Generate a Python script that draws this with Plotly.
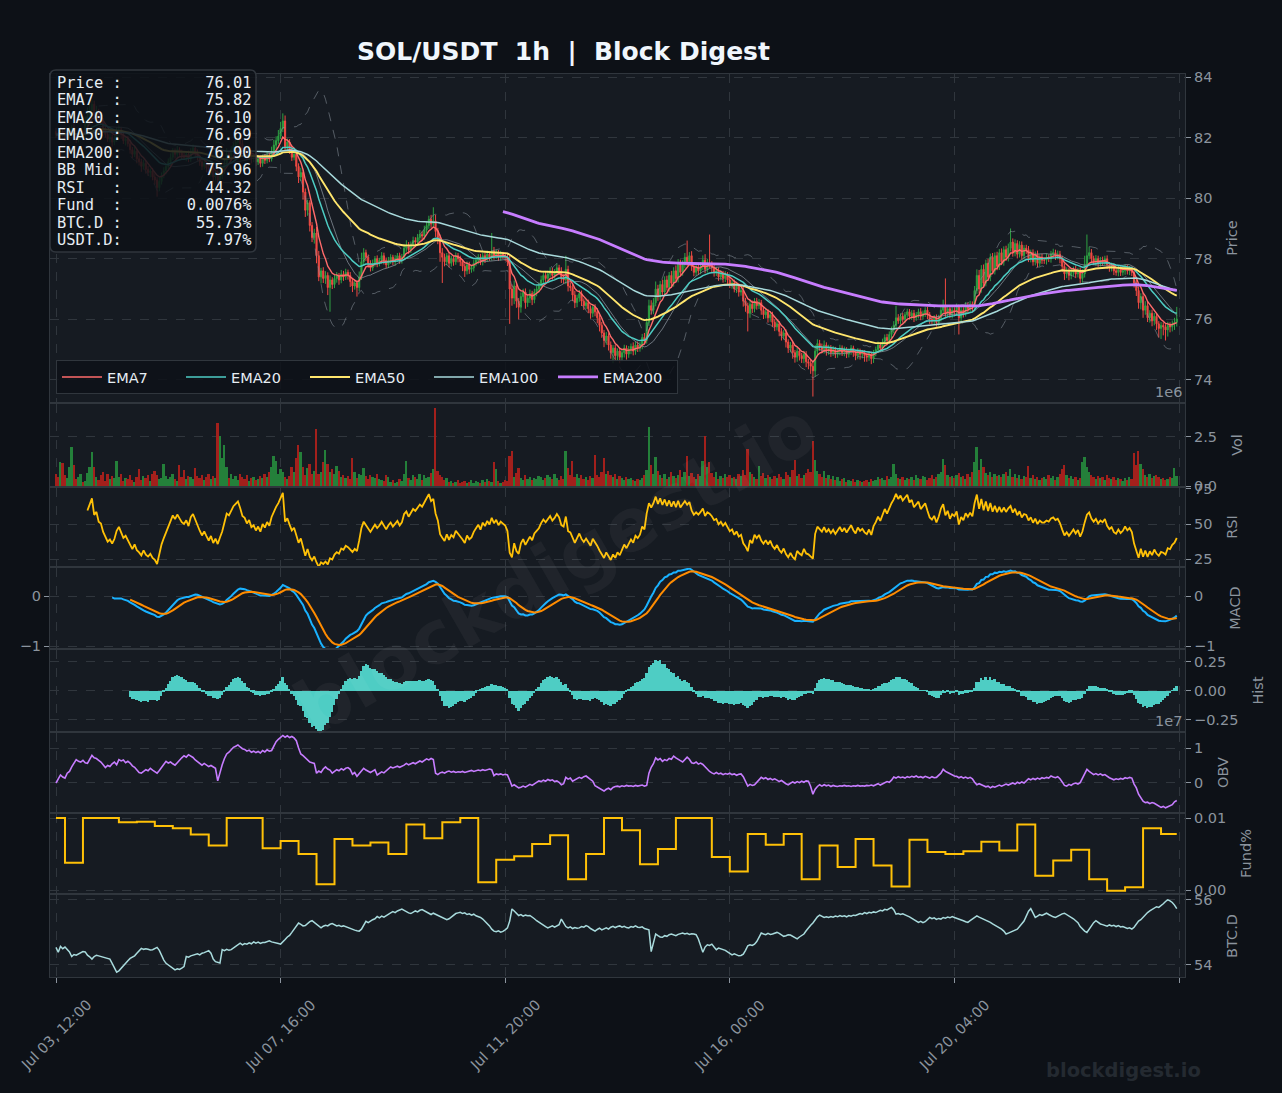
import numpy as np
import pandas as pd
import plotly.graph_objects as go
from datetime import datetime, timedelta

# ------------------------------------------------------------------ data
start_time = "2025-07-03 12:00"
first_open = 82.20

close = [
    82.10, 82.05, 82.20, 82.15, 82.00, 82.10, 82.25, 82.35, 82.05, 81.95, 82.05, 82.15, 82.10, 82.45, 82.70, 82.90, 83.10, 82.75, 82.85, 82.60,
    82.55, 82.30, 82.10, 81.95, 82.00, 81.85, 81.95, 82.15, 82.25, 82.10, 81.90, 81.95, 81.80, 81.60, 81.45, 81.55, 81.30, 81.20, 81.05, 81.15,
    80.95, 80.85, 80.90, 80.70, 80.60, 80.35, 80.55, 80.75, 80.90, 81.05, 81.20, 81.35, 81.55, 81.45, 81.60, 81.50, 81.40, 81.35, 81.45, 81.30,
    81.55, 81.65, 81.50, 81.35, 81.20, 81.05, 81.15, 81.00, 80.85, 80.95, 80.70, 80.80, 80.60, 80.75, 80.90, 81.15, 81.45, 81.40, 81.60, 81.75,
    81.85, 81.95, 81.80, 81.60, 81.55, 81.40, 81.50, 81.30, 81.35, 81.20, 81.30, 81.15, 81.35, 81.25, 81.40, 81.30, 81.55, 81.75, 81.90, 82.05,
    82.30, 82.55, 81.70, 81.85, 81.60, 81.35, 81.45, 81.05, 80.70, 80.85, 80.20, 79.60, 79.85, 79.10, 78.70, 78.85, 78.10, 77.40, 77.60, 77.35,
    77.45, 77.05, 77.30, 77.15, 77.35, 77.45, 77.30, 77.50, 77.40, 77.55, 77.45, 77.25, 77.10, 77.20, 77.05, 77.40, 77.90, 78.20, 78.05, 77.85,
    77.70, 77.85, 78.00, 77.85, 77.95, 78.10, 77.95, 77.80, 77.95, 78.05, 77.90, 78.00, 78.10, 77.95, 78.05, 78.35, 78.45, 78.30, 78.45, 78.60,
    78.55, 78.70, 78.80, 78.75, 78.95, 79.10, 79.30, 79.15, 79.25, 78.90, 78.70, 78.20, 78.05, 77.90, 78.10, 77.85, 78.00, 77.90, 78.10, 78.00,
    77.90, 77.75, 77.60, 77.80, 77.65, 77.70, 77.85, 77.95, 78.05, 77.90, 78.10, 78.00, 78.15, 78.05, 78.25, 78.10, 78.20, 78.05, 78.15, 78.10,
    78.05, 77.90, 77.00, 76.70, 77.10, 76.60, 76.40, 76.75, 76.90, 76.55, 76.70, 76.85, 76.65, 76.90, 77.00, 77.10, 77.30, 77.45, 77.35, 77.50,
    77.60, 77.45, 77.55, 77.70, 77.60, 77.35, 77.30, 77.65, 77.10, 77.05, 76.80, 76.55, 76.70, 76.85, 76.60, 76.45, 76.55, 76.35, 76.20, 76.40,
    76.25, 76.05, 75.80, 75.55, 75.30, 75.45, 75.15, 74.90, 75.05, 74.80, 74.95, 74.75, 74.90, 75.05, 74.85, 75.00, 75.10, 74.95, 75.15, 75.05,
    75.15, 75.40, 75.30, 75.90, 76.45, 76.30, 76.55, 77.00, 76.75, 77.15, 76.90, 77.30, 77.05, 77.45, 77.20, 77.60, 77.35, 77.85, 77.55, 77.80,
    78.05, 77.90, 78.10, 77.75, 77.55, 77.70, 77.60, 77.75, 77.95, 77.65, 77.85, 77.80, 77.70, 77.55, 77.60, 77.40, 77.50, 77.35, 77.45, 77.30,
    77.15, 77.20, 77.00, 77.10, 76.90, 76.95, 76.60, 76.45, 76.20, 76.50, 76.35, 76.60, 76.45, 76.55, 76.30, 76.15, 76.25, 76.05, 76.15, 75.90,
    75.75, 75.85, 75.60, 75.45, 75.55, 75.25, 75.05, 75.15, 74.90, 74.75, 74.95, 74.80, 74.70, 74.85, 74.60, 74.55, 74.45, 74.30, 74.95, 75.20,
    75.10, 75.00, 75.15, 74.95, 75.05, 74.90, 75.00, 74.85, 74.95, 75.05, 74.90, 75.00, 74.85, 74.95, 75.05, 74.90, 74.80, 74.95, 74.85, 74.90,
    74.80, 74.75, 74.85, 74.70, 74.90, 75.00, 75.15, 75.05, 75.25, 75.40, 75.30, 75.50, 75.65, 75.80, 76.05, 75.95, 76.10, 76.00, 76.15, 76.25,
    76.10, 76.20, 76.05, 76.15, 76.25, 76.10, 76.20, 76.30, 76.15, 76.00, 75.95, 76.05, 75.90, 76.05, 76.30, 76.45, 76.20, 76.35, 76.15, 76.30,
    76.25, 76.40, 76.05, 76.30, 76.20, 76.45, 76.35, 76.50, 76.40, 76.95, 77.45, 77.00, 77.65, 77.20, 77.85, 77.40, 78.05, 77.60, 78.10, 77.75,
    78.20, 77.90, 78.30, 78.05, 78.35, 78.55, 78.20, 78.50, 78.15, 78.45, 78.10, 78.35, 78.30, 78.00, 78.20, 77.90, 78.15, 77.85, 78.05, 77.95,
    77.95, 78.05, 78.00, 78.15, 78.20, 78.10, 78.15, 78.00, 77.75, 77.50, 77.60, 77.45, 77.55, 77.65, 77.50, 77.60, 77.35, 77.50, 77.80, 78.10,
    78.20, 78.00, 77.90, 78.00, 77.85, 77.95, 77.90, 78.00, 77.80, 77.70, 77.75, 77.60, 77.55, 77.65, 77.55, 77.60, 77.70, 77.60, 77.65, 77.55,
    77.20, 76.95, 76.55, 76.75, 76.30, 76.45, 76.05, 76.20, 75.95, 76.10, 75.85, 75.70, 75.80, 75.75, 75.65, 75.80, 75.75, 75.85, 75.90, 76.01,
]

# upper / lower wick length beyond the candle body, in cents
hi_wick_c = [
    12, 8, 15, 10, 9, 14, 11, 7, 13, 10, 8, 12, 9, 25, 30, 35, 15, 12, 20, 10,
    15, 9, 11, 8, 14, 10, 12, 18, 15, 9, 11, 8, 10, 12, 9, 14, 8, 11, 10, 12,
    9, 11, 8, 10, 12, 9, 14, 10, 12, 8, 11, 13, 10, 9, 12, 8, 10, 11, 9, 12,
    10, 12, 8, 11, 9, 10, 13, 8, 11, 9, 12, 10, 14, 18, 12, 15, 20, 10, 12, 9,
    11, 14, 9, 12, 10, 8, 11, 9, 12, 10, 8, 11, 9, 10, 12, 9, 15, 18, 14, 20,
    22, 25, 18, 12, 10, 14, 9, 12, 10, 15, 9, 12, 10, 8, 11, 14, 20, 16, 10, 12,
    14, 10, 15, 9, 12, 11, 8, 13, 10, 12, 9, 11, 10, 12, 9, 18, 30, 15, 10, 9,
    10, 12, 9, 11, 8, 12, 10, 9, 11, 10, 8, 12, 9, 10, 11, 14, 16, 10, 12, 13,
    11, 12, 15, 10, 14, 13, 12, 15, 45, 20, 12, 10, 15, 12, 9, 11, 10, 8, 11, 9,
    10, 8, 9, 11, 10, 8, 12, 9, 10, 11, 9, 10, 12, 9, 60, 14, 10, 9, 11, 8,
    10, 12, 20, 15, 18, 12, 10, 14, 11, 12, 10, 13, 9, 11, 10, 12, 14, 10, 12, 11,
    12, 10, 11, 14, 10, 12, 15, 45, 12, 12, 10, 14, 11, 12, 10, 9, 12, 10, 11, 9,
    10, 12, 9, 11, 10, 13, 9, 12, 10, 11, 9, 12, 10, 11, 9, 12, 10, 14, 11, 12,
    10, 12, 15, 14, 20, 18, 15, 25, 14, 12, 16, 12, 14, 11, 15, 12, 18, 14, 12, 15,
    14, 55, 12, 15, 11, 13, 12, 14, 16, 20, 15, 95, 12, 10, 13, 11, 12, 10, 14, 11,
    12, 10, 11, 12, 10, 9, 12, 11, 10, 14, 12, 10, 11, 12, 9, 10, 12, 9, 11, 10,
    10, 12, 9, 11, 10, 12, 9, 10, 11, 9, 12, 10, 9, 11, 10, 9, 12, 15, 20, 14,
    12, 10, 15, 9, 11, 10, 12, 9, 10, 11, 9, 10, 8, 9, 10, 8, 9, 10, 8, 9,
    8, 9, 10, 8, 9, 10, 12, 9, 11, 10, 12, 10, 11, 14, 40, 12, 10, 11, 9, 10,
    9, 10, 11, 9, 10, 12, 9, 10, 11, 9, 10, 9, 11, 10, 15, 20, 90, 12, 10, 11,
    10, 12, 9, 11, 10, 12, 10, 11, 9, 15, 20, 18, 14, 16, 12, 15, 12, 14, 11, 13,
    12, 14, 11, 13, 15, 45, 12, 14, 11, 13, 12, 10, 11, 12, 10, 11, 9, 12, 10, 11,
    10, 12, 9, 11, 13, 10, 12, 11, 10, 9, 12, 10, 11, 9, 12, 10, 11, 15, 30, 70,
    20, 12, 10, 12, 10, 11, 12, 10, 11, 9, 12, 10, 9, 11, 10, 9, 12, 10, 11, 9,
    10, 12, 14, 11, 12, 15, 13, 10, 12, 11, 10, 9, 11, 10, 9, 12, 10, 11, 15, 40,
]
lo_wick_c = [
    10, 12, 9, 14, 11, 8, 12, 10, 9, 13, 11, 8, 10, 9, 12, 10, 14, 18, 11, 15,
    12, 14, 10, 9, 11, 15, 10, 9, 12, 14, 11, 16, 10, 13, 12, 9, 15, 12, 18, 10,
    14, 12, 16, 11, 15, 30, 12, 10, 9, 11, 10, 12, 9, 14, 11, 10, 12, 9, 13, 11,
    10, 12, 14, 11, 13, 12, 10, 15, 12, 14, 16, 11, 35, 15, 12, 10, 9, 11, 10, 12,
    10, 12, 11, 14, 10, 13, 12, 15, 11, 14, 10, 13, 11, 12, 10, 11, 9, 10, 12, 11,
    10, 12, 15, 11, 14, 12, 10, 16, 20, 14, 25, 22, 18, 20, 15, 20, 25, 14, 22, 15,
    18, 25, 80, 15, 12, 14, 16, 11, 13, 10, 14, 18, 20, 12, 30, 12, 10, 14, 12, 15,
    12, 10, 11, 13, 10, 12, 14, 11, 10, 12, 11, 13, 10, 12, 11, 10, 12, 14, 11, 10,
    12, 11, 10, 14, 12, 10, 11, 13, 12, 18, 22, 30, 85, 15, 12, 14, 11, 13, 10, 12,
    14, 16, 20, 12, 15, 11, 12, 10, 13, 11, 12, 14, 10, 12, 11, 13, 10, 12, 11, 10,
    12, 14, 115, 25, 20, 22, 40, 18, 15, 20, 14, 16, 18, 12, 14, 11, 12, 10, 13, 11,
    12, 14, 11, 10, 13, 15, 12, 14, 18, 12, 20, 18, 15, 12, 16, 14, 12, 15, 18, 13,
    15, 18, 20, 16, 22, 14, 18, 20, 35, 18, 15, 20, 14, 16, 18, 12, 15, 14, 12, 13,
    12, 14, 11, 10, 12, 15, 13, 12, 14, 11, 13, 12, 10, 14, 11, 12, 10, 13, 12, 11,
    12, 14, 11, 15, 13, 12, 14, 11, 12, 13, 11, 12, 15, 14, 12, 13, 11, 14, 12, 13,
    12, 14, 11, 13, 15, 12, 18, 20, 60, 15, 14, 12, 13, 11, 15, 14, 12, 16, 13, 15,
    14, 12, 16, 15, 12, 18, 16, 14, 20, 18, 15, 16, 14, 15, 18, 20, 25, 85, 20, 15,
    14, 12, 13, 15, 12, 14, 11, 13, 12, 14, 11, 12, 13, 11, 12, 14, 15, 12, 18, 14,
    20, 15, 12, 18, 14, 12, 11, 13, 12, 14, 11, 12, 13, 11, 12, 10, 12, 11, 13, 10,
    11, 12, 14, 10, 12, 13, 11, 12, 14, 15, 12, 13, 14, 11, 12, 13, 12, 14, 11, 12,
    12, 13, 55, 12, 14, 11, 13, 12, 14, 12, 11, 14, 12, 13, 11, 12, 14, 11, 12, 13,
    12, 11, 13, 12, 14, 11, 13, 12, 14, 11, 13, 12, 14, 11, 12, 13, 12, 14, 11, 12,
    12, 14, 11, 13, 12, 14, 12, 15, 18, 20, 14, 16, 13, 12, 14, 12, 15, 14, 12, 11,
    12, 14, 11, 13, 12, 11, 13, 12, 14, 13, 12, 14, 11, 13, 12, 11, 13, 12, 14, 12,
    15, 18, 20, 22, 25, 15, 14, 16, 18, 15, 20, 30, 35, 28, 35, 22, 18, 15, 20, 14,
]

# volume, millions
volume_m = [
    0.60, 0.45, 1.20, 1.15, 0.55, 0.40, 0.95, 2.00, 1.05, 0.35, 0.45, 0.60, 0.20, 0.25, 0.65, 0.95, 1.75, 0.95, 0.45, 0.30,
    0.55, 0.70, 0.25, 0.60, 0.35, 0.50, 0.40, 1.30, 0.45, 0.60, 0.25, 0.40, 0.35, 0.55, 0.30, 0.20, 0.45, 0.85, 0.30, 0.50,
    0.40, 0.55, 0.25, 0.60, 0.75, 0.55, 0.35, 0.40, 1.10, 0.50, 0.35, 0.45, 0.60, 0.35, 0.25, 1.05, 0.45, 0.80, 0.35, 0.50,
    0.45, 0.35, 0.90, 0.50, 0.40, 0.55, 0.30, 0.45, 0.60, 0.35, 0.50, 0.40, 3.20, 2.55, 1.45, 2.10, 0.95, 0.40, 0.60, 0.35,
    0.50, 0.30, 0.60, 0.45, 0.35, 0.55, 0.25, 0.40, 0.45, 0.30, 0.35, 0.50, 0.40, 0.60, 0.45, 0.70, 0.95, 1.55, 1.25, 0.60,
    0.85, 0.70, 0.45, 0.35, 0.50, 0.95, 0.70, 1.45, 2.10, 1.75, 0.95, 0.55, 0.90, 1.10, 0.60, 0.75, 2.90, 0.60, 0.70, 1.20,
    1.85, 1.10, 0.70, 0.85, 0.60, 1.00, 0.75, 0.45, 0.55, 0.40, 0.50, 0.35, 1.45, 0.70, 0.40, 0.60, 0.55, 0.90, 0.50, 0.35,
    0.55, 0.45, 0.40, 0.60, 0.35, 0.30, 0.25, 0.55, 0.45, 0.20, 0.30, 0.15, 0.20, 0.35, 0.25, 0.60, 1.25, 0.40, 0.30, 0.55,
    0.45, 0.35, 0.60, 0.30, 0.55, 0.40, 0.45, 0.65, 0.85, 4.00, 0.75, 0.55, 0.45, 0.30, 0.40, 0.20, 0.25, 0.15, 0.20, 0.30,
    0.15, 0.20, 0.25, 0.15, 0.20, 0.30, 0.15, 0.25, 0.20, 0.15, 0.30, 0.20, 0.35, 0.25, 0.20, 1.20, 0.85, 0.25, 0.15, 0.20,
    0.30, 0.25, 1.55, 1.80, 0.45, 0.65, 0.90, 0.40, 0.30, 0.55, 0.35, 0.45, 0.30, 0.40, 0.35, 0.50, 0.45, 0.30, 0.40, 0.55,
    0.45, 0.35, 0.60, 0.40, 0.30, 0.50, 0.35, 1.80, 0.90, 0.55, 1.30, 0.45, 0.60, 0.40, 0.55, 0.35, 0.45, 0.30, 0.50, 0.40,
    1.60, 0.55, 0.45, 0.70, 1.45, 0.60, 0.75, 0.55, 0.45, 0.60, 0.35, 0.50, 0.40, 0.30, 0.45, 0.35, 0.40, 0.30, 0.25, 0.35,
    0.30, 0.40, 0.55, 0.80, 3.00, 1.05, 0.60, 1.50, 0.75, 0.55, 0.40, 0.60, 0.35, 0.45, 0.70, 0.50, 0.40, 0.55, 0.80, 0.45,
    0.70, 1.55, 0.50, 0.65, 0.45, 0.35, 0.60, 0.50, 1.25, 2.55, 0.95, 1.20, 0.65, 0.45, 0.70, 0.35, 0.50, 0.40, 0.60, 0.45,
    0.55, 0.40, 0.45, 0.35, 0.60, 0.50, 0.80, 0.55, 1.90, 0.70, 0.60, 0.45, 0.35, 1.00, 0.50, 0.65, 0.40, 0.55, 0.45, 0.35,
    0.50, 0.40, 0.60, 0.45, 0.35, 0.70, 0.55, 0.45, 0.80, 1.35, 0.50, 0.60, 0.40, 0.55, 0.65, 0.85, 0.70, 2.30, 1.35, 0.75,
    0.60, 0.45, 0.75, 0.40, 0.55, 0.35, 0.50, 0.30, 0.45, 0.25, 0.35, 0.40, 0.20, 0.30, 0.25, 0.35, 0.20, 0.30, 0.25, 0.20,
    0.25, 0.30, 0.20, 0.35, 0.25, 0.30, 0.45, 0.35, 0.40, 0.30, 0.50, 0.35, 0.45, 1.10, 0.60, 0.40, 0.35, 0.45, 0.30, 0.40,
    0.35, 0.45, 0.30, 0.55, 0.40, 0.35, 0.50, 0.45, 0.30, 0.40, 0.55, 0.35, 0.45, 0.60, 0.70, 1.40, 1.05, 0.55, 0.45, 0.50,
    0.40, 0.55, 0.65, 0.45, 0.50, 0.35, 0.60, 0.45, 0.70, 1.20, 2.00, 0.80, 1.40, 0.95, 0.65, 0.55, 0.70, 0.45, 0.60, 0.50,
    0.55, 0.45, 0.60, 0.70, 0.50, 0.85, 0.45, 0.60, 0.40, 0.55, 0.35, 0.50, 0.45, 1.00, 0.40, 0.55, 0.35, 0.45, 0.30, 0.40,
    0.45, 0.35, 0.55, 0.40, 0.50, 0.30, 0.45, 0.60, 0.85, 1.05, 0.55, 0.40, 0.50, 0.35, 0.45, 0.30, 0.40, 1.20, 1.50, 0.95,
    0.70, 0.55, 0.45, 0.35, 0.50, 0.40, 0.45, 0.30, 0.55, 0.40, 0.35, 0.45, 0.30, 0.40, 0.35, 0.25, 0.40, 0.30, 0.45, 0.35,
    1.70, 1.05, 1.80, 1.10, 0.85, 0.55, 0.45, 0.60, 0.40, 0.50, 0.55, 0.45, 0.35, 0.40, 0.30, 0.35, 0.45, 0.40, 0.90, 0.50,
]

# on-balance volume, units of 1e7
obv_e7 = [
    0.00, 0.10, 0.23, 0.17, 0.14, 0.28, 0.33, 0.46, 0.55, 0.67, 0.62, 0.60, 0.65, 0.58, 0.56, 0.66, 0.79, 0.72, 0.70, 0.65,
    0.60, 0.52, 0.44, 0.50, 0.47, 0.55, 0.60, 0.52, 0.67, 0.63, 0.66, 0.58, 0.62, 0.57, 0.49, 0.45, 0.38, 0.30, 0.28, 0.33,
    0.38, 0.35, 0.42, 0.37, 0.33, 0.28, 0.36, 0.45, 0.53, 0.62, 0.57, 0.60, 0.55, 0.51, 0.58, 0.66, 0.72, 0.78, 0.74, 0.81,
    0.77, 0.73, 0.66, 0.60, 0.55, 0.51, 0.56, 0.52, 0.47, 0.50, 0.46, 0.42, 0.06, 0.33, 0.52, 0.70, 0.83, 0.88, 0.95, 1.02,
    1.05, 1.09, 1.03, 0.98, 0.96, 0.91, 0.94, 0.88, 0.91, 0.87, 0.90, 0.86, 0.93, 0.89, 0.95, 0.91, 0.93, 1.05, 1.18, 1.25,
    1.32, 1.36, 1.31, 1.35, 1.30, 1.33, 1.29, 1.21, 1.00, 0.83, 0.78, 0.72, 0.65, 0.60, 0.58, 0.56, 0.28, 0.34, 0.30, 0.40,
    0.46, 0.40, 0.37, 0.28, 0.33, 0.38, 0.35, 0.41, 0.37, 0.42, 0.44, 0.39, 0.25, 0.30, 0.19, 0.26, 0.33, 0.42, 0.37, 0.33,
    0.30, 0.34, 0.38, 0.23, 0.28, 0.32, 0.29, 0.35, 0.40, 0.46, 0.43, 0.45, 0.48, 0.45, 0.47, 0.51, 0.56, 0.52, 0.55, 0.58,
    0.55, 0.59, 0.63, 0.60, 0.65, 0.69, 0.66, 0.70, 0.67, 0.28, 0.24, 0.29, 0.31, 0.28, 0.32, 0.34, 0.31, 0.33, 0.30, 0.32,
    0.31, 0.33, 0.30, 0.32, 0.34, 0.36, 0.33, 0.35, 0.37, 0.35, 0.38, 0.36, 0.39, 0.40, 0.38, 0.21, 0.26, 0.24, 0.26, 0.23,
    0.25, 0.23, 0.08, -0.09, -0.05, -0.10, -0.14, -0.12, -0.09, -0.12, -0.08, -0.04, -0.07, -0.02, 0.03, 0.06, 0.04, 0.08, 0.05, 0.10,
    0.07, 0.09, 0.04, 0.06, 0.02, -0.05, -0.02, 0.16, 0.11, 0.14, 0.05, 0.09, 0.12, 0.16, 0.13, 0.18, 0.20, 0.15, 0.11, 0.05,
    -0.08, -0.12, -0.16, -0.20, -0.23, -0.18, -0.15, -0.19, -0.13, -0.10, -0.09, -0.11, -0.08, -0.10, -0.07, -0.09, -0.08, -0.10, -0.07, -0.09,
    -0.08, -0.06, -0.09, -0.07, 0.28, 0.45, 0.55, 0.72, 0.66, 0.70, 0.62, 0.67, 0.64, 0.70, 0.68, 0.77, 0.72, 0.69, 0.64, 0.60,
    0.66, 0.74, 0.68, 0.58, 0.56, 0.60, 0.54, 0.57, 0.53, 0.46, 0.38, 0.33, 0.29, 0.26, 0.30, 0.26, 0.28, 0.24, 0.27, 0.25,
    0.28, 0.24, 0.26, 0.22, 0.25, 0.26, 0.18, 0.05, -0.09, -0.04, -0.07, -0.05, 0.02, 0.10, 0.16, 0.12, 0.15, 0.10, 0.13, 0.09,
    0.12, 0.08, 0.04, 0.07, 0.02, -0.02, -0.05, -0.01, 0.03, 0.00, 0.04, 0.01, 0.05, 0.02, 0.06, 0.05, -0.10, -0.32, -0.18, -0.10,
    -0.05, -0.09, -0.05, -0.08, -0.06, -0.10, -0.07, -0.09, -0.10, -0.08, -0.09, -0.07, -0.09, -0.08, -0.10, -0.08, -0.09, -0.07, -0.09, -0.08,
    -0.09, -0.07, -0.08, -0.06, -0.08, -0.05, -0.02, -0.06, -0.03, 0.00, 0.04, 0.02, 0.08, 0.17, 0.14, 0.18, 0.15, 0.17, 0.14, 0.18,
    0.16, 0.19, 0.17, 0.20, 0.16, 0.18, 0.15, 0.19, 0.17, 0.14, 0.18, 0.15, 0.16, 0.21, 0.28, 0.39, 0.33, 0.30, 0.26, 0.22,
    0.20, 0.19, 0.15, 0.18, 0.14, 0.17, 0.13, 0.16, 0.12, 0.02, -0.05, -0.02, -0.06, -0.08, -0.11, -0.09, -0.14, -0.10, -0.12, -0.09,
    -0.06, -0.09, -0.05, -0.03, -0.06, -0.02, 0.00, -0.03, 0.02, -0.01, 0.03, 0.00, 0.06, 0.12, 0.09, 0.13, 0.10, 0.14, 0.11, 0.15,
    0.13, 0.16, 0.14, 0.20, 0.17, 0.15, 0.18, 0.12, 0.03, -0.07, -0.09, -0.04, -0.07, -0.02, 0.00, -0.03, 0.01, 0.13, 0.28, 0.39,
    0.33, 0.28, 0.24, 0.27, 0.23, 0.26, 0.22, 0.24, 0.19, 0.15, 0.12, 0.09, 0.12, 0.10, 0.13, 0.11, 0.15, 0.13, 0.16, 0.14,
    -0.03, -0.14, -0.32, -0.43, -0.52, -0.56, -0.55, -0.59, -0.56, -0.58, -0.62, -0.66, -0.70, -0.67, -0.71, -0.68, -0.66, -0.62, -0.54, -0.50,
]

# BTC dominance, %
btc_dom = [
    54.54, 54.39, 54.57, 54.50, 54.55, 54.49, 54.40, 54.26, 54.32, 54.30, 54.34, 54.37, 54.41, 54.40, 54.30, 54.25, 54.18, 54.26, 54.30, 54.28,
    54.26, 54.24, 54.23, 54.20, 54.18, 54.05, 53.90, 53.78, 53.82, 53.90, 54.00, 54.08, 54.13, 54.20, 54.24, 54.28, 54.36, 54.44, 54.51, 54.48,
    54.50, 54.48, 54.46, 54.47, 54.50, 54.54, 54.45, 54.28, 54.15, 54.05, 54.00, 53.93, 53.88, 53.85, 53.88, 53.86, 53.90, 53.95, 54.26, 54.24,
    54.28, 54.30, 54.32, 54.34, 54.31, 54.36, 54.38, 54.40, 54.44, 54.36, 54.18, 54.10, 54.08, 54.06, 54.47, 54.44, 54.48, 54.45, 54.47, 54.52,
    54.58, 54.63, 54.67, 54.62, 54.66, 54.64, 54.68, 54.65, 54.71, 54.67, 54.70, 54.66, 54.69, 54.69, 54.72, 54.74, 54.71, 54.70, 54.68, 54.66,
    54.64, 54.70, 54.78, 54.86, 54.91, 55.00, 55.10, 55.18, 55.29, 55.25, 55.20, 55.21, 55.28, 55.33, 55.36, 55.30, 55.24, 55.18, 55.14, 55.19,
    55.22, 55.20, 55.25, 55.27, 55.24, 55.20, 55.22, 55.18, 55.20, 55.17, 55.15, 55.12, 55.09, 55.07, 55.05, 55.04, 55.10, 55.22, 55.34, 55.30,
    55.36, 55.39, 55.42, 55.49, 55.45, 55.50, 55.47, 55.52, 55.56, 55.60, 55.64, 55.61, 55.66, 55.69, 55.72, 55.68, 55.63, 55.60, 55.58, 55.62,
    55.66, 55.63, 55.68, 55.70, 55.66, 55.62, 55.58, 55.55, 55.59, 55.56, 55.52, 55.50, 55.46, 55.43, 55.39, 55.42, 55.48, 55.53, 55.58, 55.60,
    55.62, 55.58, 55.60, 55.55, 55.57, 55.53, 55.56, 55.51, 55.49, 55.46, 55.41, 55.35, 55.29, 55.20, 55.10, 55.04, 55.02, 55.05, 55.01, 55.03,
    55.08, 55.14, 55.35, 55.72, 55.66, 55.58, 55.52, 55.55, 55.50, 55.53, 55.51, 55.52, 55.48, 55.42, 55.36, 55.31, 55.27, 55.22, 55.18, 55.14,
    55.17, 55.20, 55.16, 55.19, 55.24, 55.41, 55.30, 55.18, 55.14, 55.17, 55.12, 55.15, 55.13, 55.14, 55.18, 55.16, 55.21, 55.18, 55.12, 55.08,
    55.04, 55.09, 55.13, 55.08, 55.12, 55.14, 55.10, 55.16, 55.19, 55.15, 55.18, 55.20, 55.16, 55.19, 55.15, 55.14, 55.18, 55.16, 55.20, 55.16,
    55.15, 55.17, 55.12, 55.10, 55.08, 54.41, 54.70, 54.95, 54.90, 54.86, 54.85, 54.90, 54.88, 54.93, 54.95, 54.92, 54.90, 54.94, 54.97, 54.98,
    54.95, 54.97, 54.94, 54.96, 54.95, 54.93, 54.80, 54.60, 54.39, 54.55, 54.62, 54.60, 54.64, 54.55, 54.47, 54.52, 54.50, 54.49, 54.45, 54.40,
    54.35, 54.31, 54.34, 54.30, 54.28, 54.29, 54.33, 54.45, 54.59, 54.62, 54.60, 54.64, 54.72, 54.85, 54.98, 54.95, 54.93, 54.97, 54.94, 54.95,
    54.98, 55.00, 54.97, 54.92, 54.88, 54.90, 54.93, 54.92, 54.88, 54.84, 54.80, 54.86, 54.90, 54.95, 55.05, 55.15, 55.22, 55.29, 55.40, 55.48,
    55.53, 55.50, 55.46, 55.48, 55.46, 55.49, 55.47, 55.50, 55.48, 55.52, 55.49, 55.51, 55.48, 55.52, 55.50, 55.53, 55.52, 55.55, 55.58, 55.56,
    55.61, 55.58, 55.62, 55.60, 55.63, 55.61, 55.64, 55.68, 55.66, 55.71, 55.69, 55.74, 55.77, 55.70, 55.56, 55.58, 55.55, 55.57, 55.53, 55.51,
    55.48, 55.44, 55.40, 55.36, 55.31, 55.34, 55.30, 55.33, 55.40, 55.46, 55.42, 55.45, 55.40, 55.43, 55.41, 55.46, 55.44, 55.47, 55.45, 55.49,
    55.46, 55.44, 55.41, 55.39, 55.36, 55.33, 55.31, 55.36, 55.42, 55.47, 55.51, 55.47, 55.44, 55.42, 55.39, 55.36, 55.31, 55.26, 55.22, 55.18,
    55.15, 55.10, 55.04, 54.95, 54.98, 55.01, 55.03, 55.05, 55.10, 55.18, 55.26, 55.35, 55.50, 55.65, 55.73, 55.60, 55.46, 55.50, 55.55, 55.52,
    55.56, 55.59, 55.55, 55.51, 55.48, 55.46, 55.50, 55.53, 55.57, 55.59, 55.55, 55.50, 55.46, 55.42, 55.36, 55.30, 55.18, 55.10, 55.04, 55.00,
    55.10, 55.22, 55.30, 55.36, 55.30, 55.26, 55.24, 55.22, 55.19, 55.23, 55.20, 55.22, 55.18, 55.21, 55.17, 55.18, 55.15, 55.12, 55.14, 55.10,
    55.16, 55.26, 55.35, 55.39, 55.47, 55.56, 55.61, 55.66, 55.70, 55.75, 55.79, 55.77, 55.82, 55.88, 55.95, 56.00, 55.97, 55.92, 55.84, 55.73,
]

# funding rate (%) per 8-hour period; periods change at 16:00 / 00:00 / 08:00
funding = [
    0.0100, 0.0038, 0.0100, 0.0100, 0.0094, 0.0095, 0.0089, 0.0086, 0.0077, 0.0062,
    0.0100, 0.0100, 0.0058, 0.0068, 0.0050, 0.0008, 0.0071, 0.0062, 0.0066, 0.0050,
    0.0091, 0.0072, 0.0094, 0.0100, 0.0011, 0.0042, 0.0047, 0.0064, 0.0076, 0.0015,
    0.0050, 0.0100, 0.0083, 0.0036, 0.0057, 0.0100, 0.0100, 0.0046, 0.0026, 0.0078,
    0.0063, 0.0078, 0.0015, 0.0062, 0.0032, 0.0071, 0.0034, 0.0005, 0.0070, 0.0053,
    0.0050, 0.0054, 0.0067, 0.0055, 0.0091, 0.0020, 0.0041, 0.0056, 0.0015, -0.0001,
    0.0004, 0.0086, 0.0078,
]
funding_offset_h = 4      # first funding change 4 h after the first candle
funding_period_h = 8

tick_hours = [0, 100, 200, 300, 400, 500]
labelled_ticks = 5        # the last tick carries no label

info_labels = ["Price", "EMA7", "EMA20", "EMA50", "EMA200", "BB Mid", "RSI", "Fund", "BTC.D", "USDT.D"]
info_values = ["76.01", "75.82", "76.10", "76.69", "76.90", "75.96", "44.32", "0.0076%", "55.73%", "7.97%"]

# ------------------------------------------------------------------ derived series
n = min(len(close), len(hi_wick_c), len(lo_wick_c), len(volume_m), len(obv_e7), len(btc_dom))
idx = np.arange(n)
c = pd.Series(close[:n], dtype=float)
o = c.shift(1)
o.iloc[0] = first_open
body_hi = np.maximum(o, c)
body_lo = np.minimum(o, c)
h = body_hi + np.array(hi_wick_c[:n]) / 100.0
l = body_lo - np.array(lo_wick_c[:n]) / 100.0
up = (c >= o).values

def ema(s, span):
    return s.ewm(span=span, adjust=False).mean()

ema7, ema20, ema50, ema100 = ema(c, 7), ema(c, 20), ema(c, 50), ema(c, 100)
ema200 = ema(c, 200).where(idx >= 199)
sma20 = c.rolling(20).mean()
sd20 = c.rolling(20).std()
bb_up, bb_lo = sma20 + 2 * sd20, sma20 - 2 * sd20

d = c.diff()
gain = d.clip(lower=0).ewm(alpha=1 / 14, adjust=False, min_periods=14).mean()
loss = (-d.clip(upper=0)).ewm(alpha=1 / 14, adjust=False, min_periods=14).mean()
rsi = 100 - 100 / (1 + gain / loss)

macd = (c.ewm(span=12, adjust=False).mean() - c.ewm(span=26, adjust=False).mean()).where(idx >= 25)
signal = macd.ewm(span=9, adjust=False, min_periods=9).mean()
hist = macd - signal

fund_h = [funding[min((i + funding_offset_h) // funding_period_h, len(funding) - 1)] for i in idx]

t0 = datetime.strptime(start_time, "%Y-%m-%d %H:%M")
tick_text = [(t0 + timedelta(hours=hh)).strftime("%b %d, %H:%M") for hh in tick_hours]

# ------------------------------------------------------------------ layout geometry
W, H = 1282, 1093
L, R, T, B = 50, 1185, 74, 977
def px_x(x): return (x - L) / (R - L)
def px_y(y): return (B - y) / (B - T)

panels = [(74, 402), (404, 486), (488, 566), (568, 648), (650, 731), (733, 812), (814, 893), (895, 977)]
y_ranges = [[73.27, 84.1], [0, 4.18], [20.1, 75.7], [-1.04, 0.56], [-0.345, 0.353],
            [-0.83, 1.43], [-0.0004, 0.01056], [53.63, 56.15]]
y_titles = ["Price", "Vol", "RSI", "MACD", "Hist", "OBV", "Fund%", "BTC.D"]
y_ticks = [[74, 76, 78, 80, 82, 84], [0, 2.5], [25, 50, 75], [-1, 0], [-0.25, 0, 0.25],
           [0, 1], [0, 0.01], [54, 56]]
y_fmt = ["", ".1f", "", "", ".2f", "", ".2f", ""]

BG = "#0d1117"; PBG = "#161b22"; GRID = "#30363d"; TXT = "#8b949e"
FONT = "DejaVu Sans"

fig = go.Figure()

INC, DEC = "#2ea043", "#f04a43"
fig.add_trace(go.Candlestick(
    x=idx, open=o, high=h, low=l, close=c, xaxis="x", yaxis="y",
    increasing=dict(line=dict(color=INC, width=1), fillcolor=INC),
    decreasing=dict(line=dict(color=DEC, width=1), fillcolor=DEC),
    whiskerwidth=0, showlegend=False, hoverinfo="skip"))

bb_style = dict(color="rgba(139,148,158,0.6)", width=0.9, dash="dash")
fig.add_trace(go.Scatter(x=idx, y=bb_up, mode="lines", line=bb_style, showlegend=False, hoverinfo="skip"))
fig.add_trace(go.Scatter(x=idx, y=bb_lo, mode="lines", line=bb_style, showlegend=False, hoverinfo="skip"))
fig.add_trace(go.Scatter(x=idx, y=sma20, mode="lines", line=dict(color="rgba(139,148,158,0.75)", width=1),
                         showlegend=False, hoverinfo="skip"))

for name, s, col, w in [("EMA7", ema7, "#ff6b6b", 1.4), ("EMA20", ema20, "#4ecdc4", 1.5),
                        ("EMA50", ema50, "#ffe66d", 1.9), ("EMA100", ema100, "#a8dadc", 1.5),
                        ("EMA200", ema200, "#c77dff", 2.8)]:
    fig.add_trace(go.Scatter(x=idx, y=s, mode="lines", name=name, line=dict(color=col, width=w),
                             hoverinfo="skip"))

fig.add_trace(go.Bar(x=idx, y=volume_m[:n], marker=dict(color=["#24803a" if u else "#a3201c" for u in up], line=dict(width=0)),
                     width=0.8, xaxis="x2", yaxis="y2", showlegend=False, hoverinfo="skip"))
fig.add_trace(go.Scatter(x=idx, y=rsi, mode="lines", line=dict(color="#ffc107", width=1.8),
                         xaxis="x3", yaxis="y3", showlegend=False, hoverinfo="skip"))
fig.add_trace(go.Scatter(x=idx, y=macd, mode="lines", line=dict(color="#1ab2ff", width=2),
                         xaxis="x4", yaxis="y4", showlegend=False, hoverinfo="skip"))
fig.add_trace(go.Scatter(x=idx, y=signal, mode="lines", line=dict(color="#ff8c00", width=2),
                         xaxis="x4", yaxis="y4", showlegend=False, hoverinfo="skip"))
fig.add_trace(go.Scatter(x=[idx[0]], y=[0], mode="markers", marker=dict(opacity=0),
                         xaxis="x4", yaxis="y9", showlegend=False, hoverinfo="skip"))
fig.add_trace(go.Bar(x=idx, y=hist, marker=dict(color="#4ecdc4", line=dict(width=0)), width=0.8,
                     xaxis="x5", yaxis="y5", showlegend=False, hoverinfo="skip"))
fig.add_trace(go.Scatter(x=idx, y=obv_e7[:n], mode="lines", line=dict(color="#c77dff", width=1.6),
                         xaxis="x6", yaxis="y6", showlegend=False, hoverinfo="skip"))
fig.add_trace(go.Scatter(x=idx, y=fund_h, mode="lines", line=dict(color="#ffc107", width=2, shape="hv"),
                         xaxis="x7", yaxis="y7", showlegend=False, hoverinfo="skip"))
fig.add_trace(go.Scatter(x=idx, y=btc_dom[:n], mode="lines", line=dict(color="#a8dadc", width=1.5),
                         xaxis="x8", yaxis="y8", showlegend=False, hoverinfo="skip"))

layout = dict(
    width=W, height=H, paper_bgcolor=BG, plot_bgcolor=PBG,
    margin=dict(l=L, r=W - R, t=T, b=H - B, pad=0),
    font=dict(family=FONT, size=14.5, color=TXT),
    bargap=0, showlegend=True,
    legend=dict(orientation="h", x=px_x(56), y=px_y(394), xanchor="left", yanchor="bottom",
                bgcolor="rgba(13,17,23,0.85)", bordercolor=GRID, borderwidth=1,
                itemwidth=40, entrywidth=69, entrywidthmode="pixels",
                font=dict(size=14.5, color="#e6edf3", family=FONT)),
)
for k in range(8):
    top, bot = panels[k]
    xa = "xaxis" if k == 0 else f"xaxis{k+1}"
    ya = "yaxis" if k == 0 else f"yaxis{k+1}"
    xd = dict(domain=[0, 1], anchor="y" if k == 0 else f"y{k+1}", range=[-2.67, 502.67],
              tickmode="array", tickvals=tick_hours, showgrid=True, gridcolor=GRID, griddash="dash",
              gridwidth=1, zeroline=False, showline=True, linecolor=GRID, linewidth=1.2, mirror=True)
    if k > 0:
        xd["matches"] = "x"
    if k == 7:
        xd.update(ticktext=[""] * len(tick_hours), ticks="outside", ticklen=5, tickcolor=TXT)
    else:
        xd.update(showticklabels=False, ticks="")
    if k == 0:
        xd["rangeslider"] = dict(visible=False)
    layout[xa] = xd
    yd = dict(domain=[px_y(bot), px_y(top)], anchor="x" if k == 0 else f"x{k+1}", side="right",
              range=y_ranges[k], tickmode="array", tickvals=y_ticks[k], showgrid=True, gridcolor=GRID,
              griddash="dash", gridwidth=1, zeroline=False, showline=True, linecolor=GRID, linewidth=1.2,
              mirror=True, ticks="outside", ticklen=5, tickcolor=TXT, tickfont=dict(size=14.5, color=TXT),
              title=dict(text=y_titles[k], font=dict(size=14.5, color=TXT), standoff=15))
    if y_fmt[k]:
        yd["tickformat"] = y_fmt[k]
    layout[ya] = yd
layout["yaxis9"] = dict(overlaying="y4", anchor="x4", side="left", range=y_ranges[3], tickmode="array",
                        tickvals=[-1, 0], showgrid=False, zeroline=False, showline=False, ticks="outside",
                        ticklen=5, tickcolor=TXT, tickfont=dict(size=14.5, color=TXT))
fig.update_layout(**layout)

# rotated date labels, centred on their ticks (bottom axis)
for hh, txt in list(zip(tick_hours, tick_text))[:labelled_ticks]:
    fig.add_annotation(x=hh, xref="x8", y=px_y(1035), yref="paper", text=txt, showarrow=False,
                       textangle=-45, xanchor="center", yanchor="middle",
                       font=dict(family=FONT, size=14.5, color=TXT))

# info box (rounded rectangle) drawn over the price panel
def rr_path(x0, y0, x1, y1, r):
    P = lambda x, y: f"{px_x(x):.5f},{px_y(y):.5f}"
    return (f"M {P(x0+r, y0)} L {P(x1-r, y0)} Q {P(x1, y0)} {P(x1, y0+r)} L {P(x1, y1-r)} "
            f"Q {P(x1, y1)} {P(x1-r, y1)} L {P(x0+r, y1)} Q {P(x0, y1)} {P(x0, y1-r)} "
            f"L {P(x0, y0+r)} Q {P(x0, y0)} {P(x0+r, y0)} Z")

fig.add_shape(type="path", path=rr_path(50, 70, 256, 252, 6), xref="paper", yref="paper",
              fillcolor="rgba(13,17,23,0.86)", line=dict(color=GRID, width=1.5), layer="above")

NB = "\u00a0"
for j, (lab, val) in enumerate(zip(info_labels, info_values)):
    line_txt = f"{lab:<6}:{val:>14}".replace(" ", NB)
    fig.add_annotation(x=px_x(55), y=px_y(83 + 17.44 * j), xref="paper", yref="paper", text=line_txt,
                       showarrow=False, xanchor="left", yanchor="middle",
                       font=dict(family="DejaVu Sans Mono", size=15.4, color="#e6edf3"))

# title
fig.add_annotation(x=px_x(563), y=px_y(52), xref="paper", yref="paper",
                   text=f"SOL/USDT{NB}{NB}1h{NB}{NB}|{NB}{NB}Block Digest", showarrow=False,
                   xanchor="center", yanchor="middle",
                   font=dict(family=FONT, size=25, color="#f0f6fc", weight="bold"))
# axis offset labels
fig.add_annotation(x=px_x(1184), y=px_y(392), xref="paper", yref="paper", text="1e6", showarrow=False,
                   xanchor="right", yanchor="middle", font=dict(size=14.5, color=TXT))
fig.add_annotation(x=px_x(1184), y=px_y(721), xref="paper", yref="paper", text="1e7", showarrow=False,
                   xanchor="right", yanchor="middle", font=dict(size=14.5, color=TXT))
# watermarks
fig.add_annotation(x=px_x(555), y=px_y(568), xref="paper", yref="paper", text="blockdigest.io",
                   showarrow=False, textangle=-30, xanchor="center", yanchor="middle",
                   font=dict(family=FONT, size=74, color="rgba(255,255,255,0.045)", weight="bold"))
fig.add_annotation(x=px_x(1203), y=px_y(1070), xref="paper", yref="paper", text="blockdigest.io",
                   showarrow=False, xanchor="right", yanchor="middle",
                   font=dict(family=FONT, size=19.5, color="#242a31", weight="bold"))

fig.write_html("out.html")
